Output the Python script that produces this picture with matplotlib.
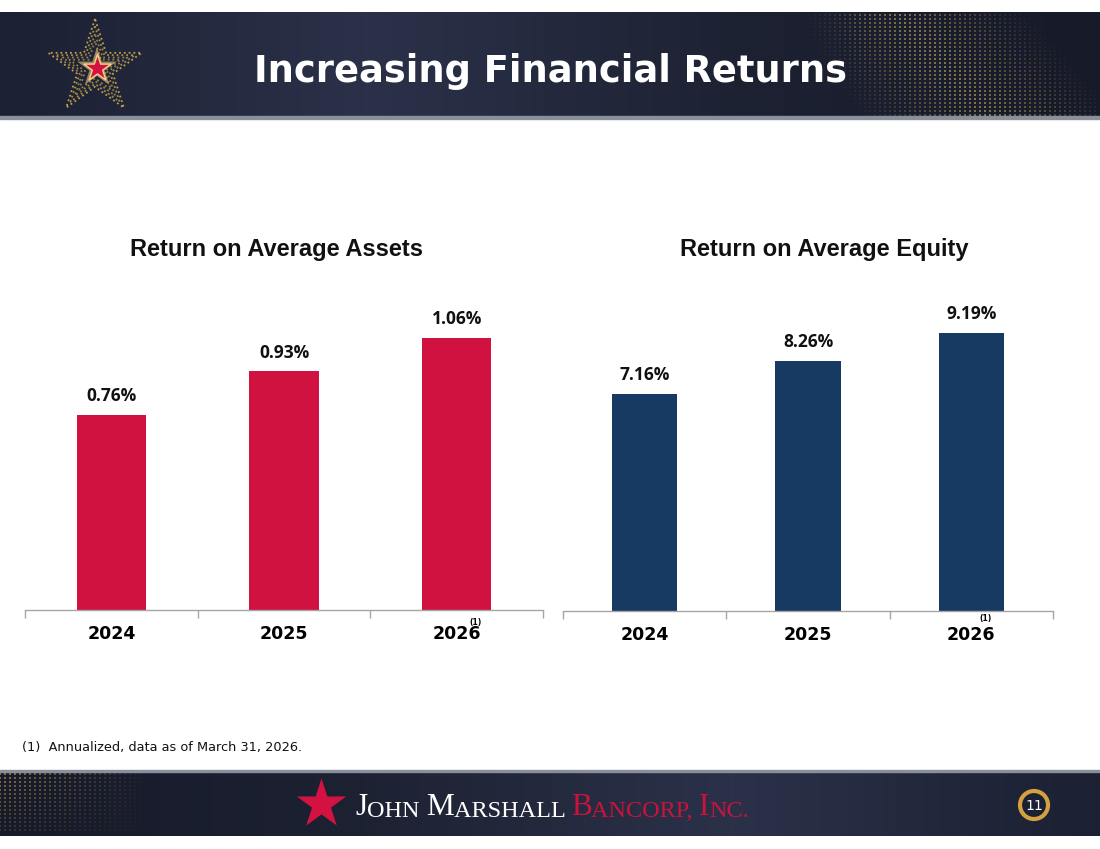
import numpy as np
import matplotlib
matplotlib.use("Agg")
import matplotlib.pyplot as plt
from matplotlib.patches import Rectangle, Circle
from matplotlib.colors import LinearSegmentedColormap

# ---- data ----
years = ["2024", "2025", "2026"]
roaa = [0.76, 0.93, 1.06]
roae = [7.16, 8.26, 9.19]
roaa_labels = ["0.76%", "0.93%", "1.06%"]
roae_labels = ["7.16%", "8.26%", "9.19%"]
title_text = "Increasing Financial Returns"
left_title = "Return on Average Assets"
right_title = "Return on Average Equity"
footnote = "(1)  Annualized, data as of March 31, 2026."

W, H = 1100, 849
fig = plt.figure(figsize=(W / 100, H / 100), dpi=100)
fig.patch.set_facecolor("white")

# background axes in pixel coordinates
bg = fig.add_axes([0, 0, 1, 1])
bg.set_xlim(0, W)
bg.set_ylim(H, 0)
bg.axis("off")
bg.set_zorder(-1)

cmap = LinearSegmentedColormap.from_list("band", ["#1b2032", "#2b3149", "#1d2233", "#161a29"])
grad = np.linspace(0, 1, 256)[None, :]
# header band
bg.imshow(grad, extent=(0, W, 118, 12), cmap=cmap, aspect="auto", zorder=0)
bg.add_patch(Rectangle((0, 116), W, 3, color="#8a8f9c", zorder=1))
# footer band
bg.imshow(grad[:, ::-1], extent=(0, W, 836, 771), cmap=cmap, aspect="auto", zorder=0)
bg.add_patch(Rectangle((0, 770), W, 2, color="#8a8f9c", zorder=1))

# gold dot pattern header right (diagonal band)
xs, ys = np.meshgrid(np.arange(800, 1100, 5), np.arange(15, 116, 4))
xs = xs.ravel(); ys = ys.ravel()
fade = np.clip(1 - np.abs((xs - 900) - (ys - 60) * 0.9 - 40) / 130, 0, 1) * np.clip((xs - 800) / 60, 0, 1)
bg.scatter(xs, ys, s=1.6, c="#d8b558", alpha=fade * 0.95, linewidths=0, zorder=2)
# footer left pattern
xs2, ys2 = np.meshgrid(np.arange(0, 150, 5), np.arange(774, 834, 4))
xs2 = xs2.ravel(); ys2 = ys2.ravel()
fade2 = np.clip(1 - xs2 / 150, 0, 1) * np.clip(1 - (ys2 - 774) / 80, 0, 1)
bg.scatter(xs2, ys2, s=1.6, c="#d8b558", alpha=fade2 * 0.95, linewidths=0, zorder=2)

# star logo
for s, a in [(5000, 0.95), (3600, 0.8), (2400, 0.7), (1500, 0.7)]:
    bg.scatter([95], [68], marker="*", s=s, facecolor="none", edgecolor="#c9a64a",
               linewidths=1.3, linestyle=":", alpha=a, zorder=3)
bg.scatter([97], [68], marker="*", s=900, facecolor="#f0c77a", edgecolor="none", alpha=0.6, zorder=4)
bg.scatter([97], [68], marker="*", s=420, facecolor="#d31242", edgecolor="#f3d38a", linewidths=1.0, zorder=5)

# title
bg.text(550, 71, title_text, color="white", fontsize=26.5, fontweight="bold",
        family="DejaVu Sans", ha="center", va="center", zorder=5)

# footer logo
bg.scatter([321], [804], marker="*", s=1400, color="#d31242", linewidths=0, zorder=5)
pieces = [("J", 22.5, "white"), ("OHN ", 17.5, "white"), ("M", 22.5, "white"), ("ARSHALL ", 17.5, "white"),
          ("B", 22.5, "#c8143c"), ("ANCORP, ", 17.5, "#c8143c"), ("I", 22.5, "#c8143c"), ("NC.", 17.5, "#c8143c")]
prev = bg.text(355, 815, pieces[0][0], color=pieces[0][2], fontsize=pieces[0][1],
               family="Liberation Serif", ha="left", va="baseline", zorder=5)
for txt, fs, col in pieces[1:]:
    prev = bg.annotate(txt, xy=(1, 0), xycoords=prev, xytext=(0, 0), textcoords="offset points",
                       color=col, fontsize=fs, family="Liberation Serif", ha="left", va="bottom",
                       zorder=5)
bg.add_patch(Circle((1034, 805), 14, facecolor="#1b2032", edgecolor="#d4a040", linewidth=3, zorder=5))
bg.text(1034, 806, "11", color="white", fontsize=10, ha="center", va="center", zorder=6)

# footnote
bg.text(22, 748, footnote, color="#111111", fontsize=9.3, family="DejaVu Sans",
        ha="left", va="center")

# chart titles
bg.text(276, 249, left_title, fontsize=17, fontweight="bold", family="Liberation Sans",
        ha="center", va="center", color="#111111")
bg.text(824, 249, right_title, fontsize=17, fontweight="bold", family="Liberation Sans",
        ha="center", va="center", color="#111111")


def bar_axes(x0, x1, y_base, y_top, ymax, values, labels, color, sup_x, sup_y):
    ax = fig.add_axes([x0 / W, (H - y_base) / H, (x1 - x0) / W, (y_base - y_top) / H])
    x = np.arange(len(values))
    ax.bar(x, values, width=0.4, color=color, zorder=2)
    ax.set_xlim(-0.5, len(values) - 0.5)
    ax.set_ylim(0, ymax)
    for s in ["top", "right", "left"]:
        ax.spines[s].set_visible(False)
    ax.spines["bottom"].set_color("#a6a6a6")
    ax.spines["bottom"].set_linewidth(1.0)
    ax.set_yticks([])
    ax.set_xticks(x)
    ax.set_xticklabels(years, fontsize=12.5, fontweight="bold", family="DejaVu Sans")
    ax.tick_params(axis="x", which="major", length=0, pad=11)
    ax.set_xticks(np.arange(-0.5, len(values), 1.0), minor=True)
    ax.tick_params(axis="x", which="minor", length=6, color="#a6a6a6", width=1.0)
    ax.patch.set_alpha(0)
    for xi, v, lab in zip(x, values, labels):
        ax.annotate(lab, (xi, v), xytext=(0, 7), textcoords="offset points",
                    ha="center", va="bottom", fontsize=12.5, fontweight="bold",
                    family="Open Sans", color="#111111")
    bg.text(sup_x, sup_y, "(1)", fontsize=5.5, fontweight="bold", ha="center", va="center")
    return ax


bar_axes(25, 543, 610, 300, 310 / 256.6, roaa, roaa_labels, "#d01241", 476, 622)
bar_axes(563, 1053, 611, 300, 311 / 30.3, roae, roae_labels, "#163a61", 986, 619)

fig.savefig("out.png", dpi=100)
